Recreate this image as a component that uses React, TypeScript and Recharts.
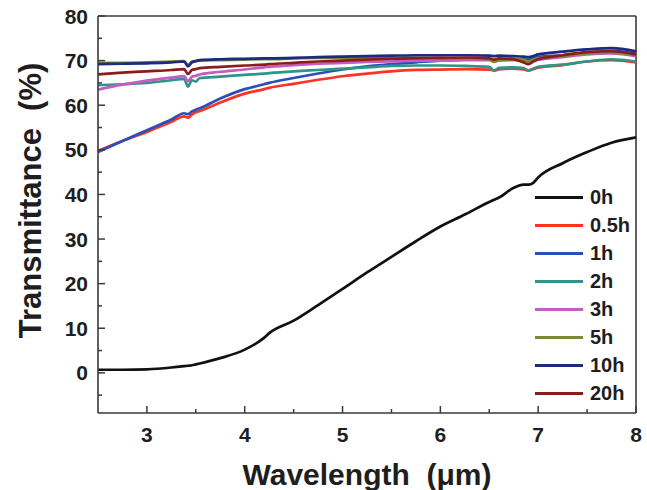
import React from "react"
import { LineChart, Line, XAxis, YAxis, ReferenceLine } from "recharts"

// shared wavelength grid (µm)
const wavelength = [
  2.5, 2.75, 3.0, 3.25, 3.38, 3.42, 3.46, 3.5, 3.54, 3.75, 4.0, 4.2, 4.25, 4.5,
  4.75, 5.0, 5.25, 5.5, 5.75, 6.0, 6.25, 6.5, 6.55, 6.6, 6.75, 6.85, 6.9, 6.95,
  7.0, 7.25, 7.5, 7.75, 8.0,
]

// transmittance (%) per annealing time
const t0h = [
  0.7, 0.7, 0.8, 1.2, 1.5, 1.6, 1.7, 1.9, 2.1, 3.3, 5.2, 7.9, 8.9, 11.7, 15.2,
  18.8, 22.5, 26.0, 29.5, 32.8, 35.5, 38.3, 38.8, 39.3, 41.5, 42.2, 42.2, 42.6,
  43.8, 47.0, 49.5, 51.6, 52.8,
]
const t05h = [
  49.8, 52.0, 54.0, 56.3, 57.5, 57.2, 57.9, 58.4, 58.7, 60.6, 62.6, 63.6, 63.9,
  64.8, 65.7, 66.5, 67.1, 67.6, 67.9, 68.0, 68.1, 68.0, 67.8, 68.0, 68.2, 68.0,
  67.8, 68.1, 68.4, 69.0, 69.8, 70.1, 69.6,
]
const t1h = [
  49.5, 52.0, 54.4, 56.8, 58.2, 58.0, 58.6, 59.0, 59.3, 61.5, 63.6, 64.7, 65.0,
  66.1, 67.1, 68.0, 68.7, 69.2, 69.6, 70.0, 70.2, 70.3, 70.0, 70.3, 70.4, 70.3,
  70.2, 70.5, 70.8, 71.2, 71.8, 72.2, 71.6,
]
const t2h = [
  64.5, 64.7, 65.0, 65.6, 65.9, 64.2, 65.6, 65.3, 66.1, 66.4, 66.8, 67.1, 67.2,
  67.6, 67.9, 68.2, 68.5, 68.8, 68.9, 68.9, 68.8, 68.6, 67.7, 68.4, 68.5, 68.3,
  67.8, 68.2, 68.6, 69.1, 69.8, 70.3, 69.8,
]
const t3h = [
  63.5, 64.6, 65.5, 66.2, 66.5, 65.4, 66.4, 66.6, 66.9, 67.5, 68.0, 68.5, 68.6,
  69.0, 69.3, 69.5, 69.7, 69.8, 70.0, 70.0, 70.1, 70.1, 69.8, 70.0, 70.1, 70.0,
  69.8, 70.0, 70.2, 70.8, 71.4, 71.6, 71.0,
]
const t5h = [
  69.5, 69.5, 69.6, 69.8, 69.9, 69.0, 69.8, 69.9, 70.0, 70.1, 70.2, 70.3, 70.3,
  70.5, 70.6, 70.6, 70.7, 70.7, 70.7, 70.6, 70.5, 70.3, 69.7, 70.2, 70.3, 70.2,
  69.8, 70.2, 70.5, 71.0, 71.6, 71.8, 71.2,
]
const t10h = [
  69.2, 69.3, 69.4, 69.6, 69.8, 68.7, 69.6, 69.9, 70.1, 70.3, 70.4, 70.5, 70.5,
  70.6, 70.8, 70.9, 71.0, 71.1, 71.2, 71.2, 71.2, 71.1, 71.0, 71.1, 71.0, 70.9,
  70.8, 71.0, 71.4, 72.0, 72.5, 72.8, 72.1,
]
const t20h = [
  66.9, 67.3, 67.6, 67.9, 68.1, 67.0, 67.9, 68.1, 68.3, 68.6, 68.9, 69.1, 69.2,
  69.5, 69.8, 70.0, 70.2, 70.4, 70.5, 70.6, 70.7, 70.5, 70.2, 70.5, 70.3, 69.6,
  69.2, 69.8, 70.3, 71.2, 71.9, 72.1, 71.4,
]

const seriesNames = ["0h", "0.5h", "1h", "2h", "3h", "5h", "10h", "20h"]
const seriesValues = [t0h, t05h, t1h, t2h, t3h, t5h, t10h, t20h]
const seriesColors = [
  "#111111",
  "#ff3322",
  "#2a4fb8",
  "#2e9688",
  "#c45cc4",
  "#7b8a36",
  "#1c2a80",
  "#8a1c1c",
]

const xTicks = [3, 3.5, 4, 4.5, 5, 5.5, 6, 6.5, 7, 7.5, 8]
const yTicks = [-5, 0, 5, 10, 15, 20, 25, 30, 35, 40, 45, 50, 55, 60, 65, 70, 75, 80]

const data = wavelength.map((w, i) => {
  const row: Record<string, number> = { w }
  seriesNames.forEach((name, s) => {
    row[name] = seriesValues[s][i]
  })
  return row
})

const FONT = "'Liberation Sans', Arial, sans-serif"
const AXIS = "#3a3a3a"
const INK = "#1e1e1e"

// ticks point into the plot; minor ticks are shorter and unlabeled
function XTick(props: any) {
  const { x, y, payload } = props
  const v = payload.value
  const major = Number.isInteger(v)
  const base = y - 14
  return (
    <g>
      <line x1={x} y1={base} x2={x} y2={base - (major ? 7 : 4)} stroke={AXIS} strokeWidth={1.5} />
      {major && (
        <text x={x} y={y} dy={15} textAnchor="middle" fontSize={21} fontWeight="bold" fontFamily={FONT} fill={INK}>
          {v}
        </text>
      )}
    </g>
  )
}

function YTick(props: any) {
  const { x, y, payload } = props
  const v = payload.value
  const major = v % 10 === 0
  const base = x + 10
  return (
    <g>
      <line x1={base} y1={y} x2={base + (major ? 7 : 4)} y2={y} stroke={AXIS} strokeWidth={1.5} />
      {major && (
        <text x={x} y={y} dy={7.5} textAnchor="end" fontSize={21} fontWeight="bold" fontFamily={FONT} fill={INK}>
          {v}
        </text>
      )}
    </g>
  )
}

function XTitle(props: any) {
  const { viewBox } = props
  const cx = viewBox.x + viewBox.width / 2
  return (
    <text x={cx} y={485} textAnchor="middle" fontSize={30} fontWeight="bold" fontFamily={FONT} fill={INK}>
      {"Wavelength\u00a0\u00a0(\u03bcm)"}
    </text>
  )
}

function YTitle(props: any) {
  const { viewBox } = props
  const bx = viewBox.x + 41
  const cy = viewBox.y + viewBox.height / 2 - 14
  return (
    <text
      x={bx}
      y={cy}
      transform={`rotate(-90, ${bx}, ${cy})`}
      textAnchor="middle"
      fontSize={31}
      fontWeight="bold"
      fontFamily={FONT}
      fill={INK}
    >
      {"Transmittance\u00a0\u00a0(%)"}
    </text>
  )
}

function LegendBox() {
  return (
    <div
      style={{
        position: "absolute",
        left: 535,
        top: 183,
        fontFamily: FONT,
        fontWeight: "bold",
        fontSize: 20,
        color: INK,
      }}
    >
      {seriesNames.map((name, i) => (
        <div key={name} style={{ display: "flex", alignItems: "center", height: 28.1 }}>
          <div style={{ width: 48, height: 3, background: seriesColors[i], marginRight: 7 }} />
          <span>{name}</span>
        </div>
      ))}
    </div>
  )
}

export default function App() {
  return (
    <div style={{ position: "absolute", left: 0, top: 0, width: 647, height: 490, background: "#fff" }}>
      <LineChart
        width={647}
        height={490}
        data={data}
        margin={{ top: 16, right: 11, bottom: 37, left: 0 }}
      >
        <XAxis
          dataKey="w"
          type="number"
          domain={[2.5, 8]}
          ticks={xTicks}
          interval={0}
          height={40}
          tickSize={0}
          tickMargin={14}
          tickLine={false}
          axisLine={{ stroke: AXIS, strokeWidth: 1.6 }}
          tick={<XTick />}
          label={<XTitle />}
        />
        <YAxis
          type="number"
          domain={[-9, 80]}
          ticks={yTicks}
          interval={0}
          width={98}
          tickSize={0}
          tickMargin={10}
          tickLine={false}
          axisLine={{ stroke: AXIS, strokeWidth: 1.6 }}
          tick={<YTick />}
          label={<YTitle />}
        />
        <ReferenceLine y={80} stroke={AXIS} strokeWidth={1.6} />
        <ReferenceLine x={8} stroke={AXIS} strokeWidth={1.6} />
        {seriesNames.map((name, i) => (
          <Line
            key={name}
            dataKey={name}
            name={name}
            type="monotone"
            stroke={seriesColors[i]}
            strokeWidth={2.7}
            dot={false}
            activeDot={false}
            isAnimationActive={false}
          />
        ))}
      </LineChart>
      <LegendBox />
    </div>
  )
}
